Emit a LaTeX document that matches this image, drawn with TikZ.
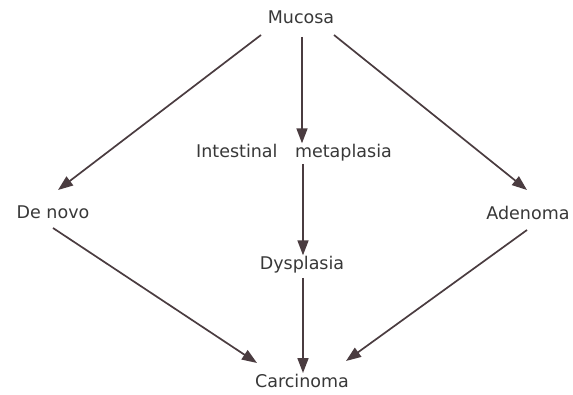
\documentclass[tikz,border=0pt]{standalone}
\usepackage{fontspec}
\setmainfont{DejaVu Sans}
\usetikzlibrary{arrows.meta}
\definecolor{ink}{HTML}{4A3C40}
\definecolor{txt}{HTML}{383838}
\begin{document}
\begin{tikzpicture}[x=1pt,y=-1pt,
  lbl/.style={text=txt,font=\fontsize{17.5}{20}\selectfont,inner sep=1pt},
  arr/.style={draw=ink,line width=1.7pt,-{Triangle[length=15pt,width=11pt]}}]
\fill[white] (0,0) rectangle (573,395);
\useasboundingbox (0,0) rectangle (573,395);
\node[lbl] (muc) at (301,17) {Mucosa};
\node[lbl] (int) at (294,153) {Intestinal\hspace{1em}metaplasia};
\node[lbl] (den) at (53,212) {De novo};
\node[lbl] (ade) at (528,213) {Adenoma};
\node[lbl] (dys) at (302,265) {Dysplasia};
\node[lbl] (car) at (302,381) {Carcinoma};
\coordinate (m1) at (261,35);
\coordinate (m2) at (302,37);
\coordinate (m3) at (334,35);
\coordinate (i1) at (303,164);
\coordinate (d1) at (303,278);
\coordinate (n1) at (53,228);
\coordinate (a1) at (527,230);
\coordinate (e1) at (58,190);
\coordinate (e3) at (527,190);
\coordinate (c1) at (257,363);
\coordinate (c3) at (346,361);
\draw[arr] (m1) -- (e1);
\draw[arr] (m2) -- (int.north -| m2);
\draw[arr] (m3) -- (e3);
\draw[arr] (i1) -- (dys.north -| i1);
\draw[arr] (d1) -- (car.north -| d1);
\draw[arr] (n1) -- (c1);
\draw[arr] (a1) -- (c3);
\end{tikzpicture}
\end{document}
